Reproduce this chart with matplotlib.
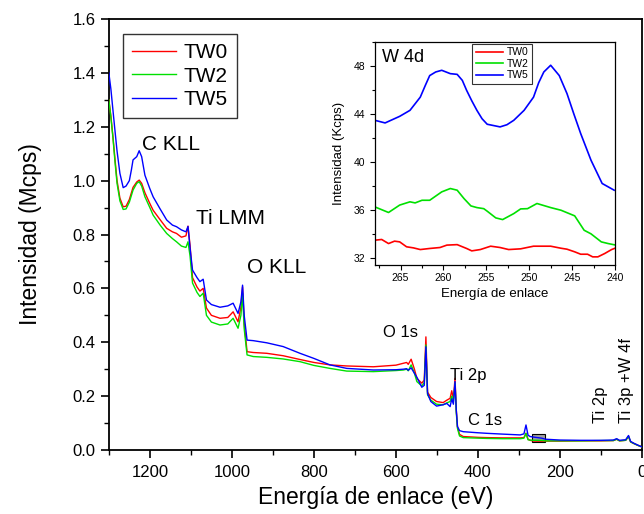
import matplotlib
matplotlib.use('Agg')
import matplotlib.pyplot as plt
from matplotlib.patches import Rectangle
from matplotlib.ticker import MultipleLocator

plt.rcParams['font.family'] = ['Liberation Sans', 'DejaVu Sans']

# ---- survey spectra (Mcps) ----
energia = [1300, 1295, 1290, 1285, 1280, 1273, 1265, 1258, 1250, 1245, 1241, 1232,
           1226, 1220, 1212, 1200, 1192,
           1175, 1159, 1145, 1135, 1123, 1112, 1107, 1102, 1096, 1085, 1078, 1070,
           1062, 1050, 1029, 1010, 997, 985, 978, 974, 970, 963, 948, 915, 875, 834,
           800, 761, 720, 655, 600, 582, 574, 570, 563, 555, 549, 537, 531, 527, 523,
           515, 501, 485, 476, 468, 464, 460, 456, 453, 450, 445, 436, 400, 379, 340,
           297, 288, 283, 278, 273, 265, 255, 245, 235, 200, 150, 100, 70, 62, 55,
           40, 33, 28, 20, 10, 1]
tw0 = [1.30, 1.24, 1.163, 1.08, 1.0, 0.935, 0.903, 0.905, 0.93, 0.955, 0.975, 0.995,
       1.002, 0.99, 0.955, 0.915, 0.89,
       0.855, 0.823, 0.81, 0.804, 0.79, 0.795, 0.831, 0.76, 0.64, 0.605, 0.59, 0.60,
       0.527, 0.5, 0.489, 0.492, 0.513, 0.476, 0.53, 0.606, 0.47, 0.365, 0.362, 0.359,
       0.35, 0.336, 0.325, 0.316, 0.312, 0.309, 0.315, 0.322, 0.325, 0.318, 0.337, 0.3,
       0.266, 0.248, 0.26, 0.42, 0.215, 0.195, 0.18, 0.176, 0.185, 0.192, 0.22, 0.19,
       0.266, 0.15, 0.085, 0.058, 0.05, 0.047, 0.046, 0.045, 0.045, 0.046, 0.062, 0.04,
       0.036, 0.0335, 0.033, 0.0328, 0.033, 0.033, 0.034, 0.034, 0.035, 0.04, 0.034,
       0.036, 0.05, 0.03, 0.024, 0.017, 0.012]
tw2 = [1.30, 1.235, 1.16, 1.07, 0.99, 0.925, 0.893, 0.895, 0.92, 0.945, 0.965, 0.99,
       0.996, 0.98, 0.94, 0.9, 0.872,
       0.835, 0.804, 0.785, 0.773, 0.757, 0.752, 0.773, 0.72, 0.62, 0.585, 0.57, 0.582,
       0.5, 0.475, 0.464, 0.468, 0.489, 0.452, 0.5, 0.582, 0.45, 0.353, 0.347, 0.344,
       0.338, 0.328, 0.314, 0.303, 0.293, 0.291, 0.295, 0.297, 0.3, 0.294, 0.316, 0.285,
       0.254, 0.238, 0.25, 0.39, 0.205, 0.185, 0.17, 0.168, 0.175, 0.18, 0.2, 0.18,
       0.248, 0.14, 0.08, 0.052, 0.046, 0.044, 0.043, 0.042, 0.042, 0.044, 0.062, 0.038,
       0.037, 0.036, 0.036, 0.0355, 0.034, 0.034, 0.034, 0.035, 0.035, 0.04, 0.034,
       0.036, 0.05, 0.03, 0.024, 0.017, 0.012]
tw5 = [1.40, 1.34, 1.262, 1.185, 1.11, 1.027, 0.974, 0.98, 1.0, 1.04, 1.077, 1.089,
       1.111, 1.089, 1.02, 0.97, 0.94,
       0.895, 0.854, 0.835, 0.829, 0.817, 0.81, 0.83, 0.75, 0.668, 0.64, 0.625, 0.634,
       0.557, 0.54, 0.53, 0.535, 0.545, 0.507, 0.55, 0.612, 0.5, 0.408, 0.406, 0.398,
       0.384, 0.359, 0.34, 0.316, 0.303, 0.297, 0.298, 0.3, 0.302, 0.296, 0.305, 0.285,
       0.27, 0.233, 0.24, 0.383, 0.21, 0.18, 0.163, 0.168, 0.173, 0.161, 0.19, 0.17,
       0.254, 0.15, 0.087, 0.072, 0.068, 0.064, 0.062, 0.059, 0.056, 0.06, 0.093, 0.055,
       0.05, 0.048, 0.046, 0.044, 0.04, 0.037, 0.036, 0.036, 0.037, 0.042, 0.036,
       0.038, 0.054, 0.032, 0.025, 0.018, 0.012]

# ---- W 4d detail (Kcps) ----
e_w5 = [268.0, 266.8, 265.1, 263.9, 262.7, 262.1, 261.6, 260.9, 260.2, 259.2, 258.4,
        257.8, 257.3, 256.7, 256.1, 255.5, 254.9, 253.4, 252.6, 251.8, 250.6, 249.5,
        248.9, 248.3, 247.5, 246.5, 245.6, 244.8, 244.0, 242.8, 241.5, 240.1]
w_tw5 = [43.47, 43.25, 43.8, 44.3, 45.4, 46.4, 47.2, 47.5, 47.64, 47.36, 47.3,
         46.8, 45.97, 45.1, 44.3, 43.6, 43.14, 42.92, 43.1, 43.47, 44.3, 45.4,
         46.6, 47.5, 48.06, 47.2, 45.7, 44.0, 42.36, 40.14, 38.2, 37.64]
e_w2 = [268.0, 266.4, 265.1, 263.9, 263.3, 262.5, 261.6, 260.2, 259.2, 258.4, 257.6,
        256.8, 256.1, 255.3, 254.9, 253.9, 253.1, 251.8, 251.0, 250.2, 249.1, 247.5,
        246.3, 244.7, 243.6, 242.8, 241.6, 240.8, 239.9]
w_tw2 = [36.25, 35.78, 36.4, 36.67, 36.58, 36.8, 36.8, 37.5, 37.78, 37.64, 36.94, 36.33,
         36.19, 36.1, 35.89, 35.33, 35.19, 35.69, 36.08, 36.1, 36.53, 36.19, 35.97, 35.5,
         34.3, 34.0, 33.33, 33.19, 33.06]
e_w0 = [268.0, 267.2, 266.4, 265.7, 265.1, 264.3, 263.5, 262.7, 261.6, 260.4, 259.6,
        258.4, 257.3, 256.7, 255.7, 254.5, 253.4, 252.4, 251.0, 249.5, 247.5, 246.3,
        245.6, 244.7, 244.0, 243.2, 242.6, 242.0, 241.2, 240.4, 239.9]
w_tw0 = [33.47, 33.53, 33.19, 33.39, 33.33, 32.92, 32.83, 32.69, 32.78, 32.86, 33.06,
         33.1, 32.78, 32.58, 32.69, 32.97, 32.86, 32.69, 32.75, 32.97, 32.97, 32.8,
         32.72, 32.5, 32.3, 32.3, 32.08, 32.08, 32.36, 32.69, 32.83]

labels = ['TW0', 'TW2', 'TW5']
colores = ['#ff0000', '#00e000', '#0000ff']

fig = plt.figure(figsize=(6.44, 5.14), dpi=100)
ax = fig.add_axes([0.169, 0.1245, 0.828, 0.8385])

for y, lab, c in zip([tw0, tw2, tw5], labels, colores):
    ax.plot(energia, y, color=c, lw=1.0, label=lab, zorder=3)

ax.add_patch(Rectangle((268, 0.028), -32, 0.03, facecolor='#a0a0a0',
                       edgecolor='black', lw=0.8, zorder=2))

ax.set_xlim(1300, 0)
ax.set_ylim(0, 1.6)
ax.xaxis.set_major_locator(MultipleLocator(200))
ax.xaxis.set_minor_locator(MultipleLocator(100))
ax.yaxis.set_major_locator(MultipleLocator(0.2))
ax.yaxis.set_minor_locator(MultipleLocator(0.1))
ax.yaxis.set_major_formatter(matplotlib.ticker.FormatStrFormatter('%.1f'))
ax.tick_params(which='major', direction='out', length=6, width=1.2, labelsize=12)
ax.tick_params(which='minor', direction='out', length=3.5, width=1.0)
ax.tick_params(axis='x', pad=5)
for s in ax.spines.values():
    s.set_linewidth(1.3)
ax.set_xlabel('Energía de enlace (eV)', fontsize=16.5, labelpad=4)
ax.set_ylabel('Intensidad (Mcps)', fontsize=16.5, labelpad=22)

leg = ax.legend(loc='upper left', bbox_to_anchor=(0.026, 0.965), borderaxespad=0,
                fontsize=15, fancybox=False, edgecolor='black', handlelength=2.1,
                handletextpad=0.35, labelspacing=0.2, borderpad=0.45)
leg.get_frame().set_linewidth(1.0)

big = 15
small = 12
ax.text(1219, 1.136, 'C KLL', fontsize=big, va='center', ha='left')
ax.text(1088, 0.861, 'Ti LMM', fontsize=big, va='center', ha='left')
ax.text(963, 0.676, 'O KLL', fontsize=big, va='center', ha='left')
ax.text(632, 0.438, 'O 1s', fontsize=small, va='center', ha='left')
ax.text(468, 0.278, 'Ti 2p', fontsize=small, va='center', ha='left')
ax.text(424, 0.108, 'C 1s', fontsize=small, va='center', ha='left')
ax.text(102, 0.1, 'Ti 2p', fontsize=small, va='bottom', ha='center', rotation=90)
ax.text(39, 0.1, 'Ti 3p +W 4f', fontsize=small, va='bottom', ha='center', rotation=90)

# ---- inset ----
axi = fig.add_axes([0.582, 0.4844, 0.373, 0.4339])
axi.plot(e_w0, w_tw0, color=colores[0], lw=1.2, label=labels[0])
axi.plot(e_w2, w_tw2, color=colores[1], lw=1.2, label=labels[1])
axi.plot(e_w5, w_tw5, color=colores[2], lw=1.2, label=labels[2])
axi.set_xlim(268, 240)
axi.set_ylim(31.4, 50)
axi.xaxis.set_major_locator(MultipleLocator(5))
axi.xaxis.set_minor_locator(MultipleLocator(2.5))
axi.yaxis.set_major_locator(MultipleLocator(4))
axi.yaxis.set_minor_locator(MultipleLocator(2))
axi.tick_params(which='major', direction='out', length=3.5, width=0.8, labelsize=7.5)
axi.tick_params(which='minor', direction='out', length=2, width=0.8)
axi.tick_params(axis='x', pad=2.5)
for s in axi.spines.values():
    s.set_linewidth(0.9)
axi.set_xlabel('Energía de enlace', fontsize=9.5, labelpad=3)
axi.set_ylabel('Intensidad (Kcps)', fontsize=9.5, labelpad=6)
axi.text(0.03, 0.97, 'W 4d', transform=axi.transAxes, fontsize=13, va='top', ha='left')
li = axi.legend(loc='upper center', bbox_to_anchor=(0.53, 0.99), borderaxespad=0,
                fontsize=7.5, fancybox=False, edgecolor='black', handlelength=2.6,
                handletextpad=0.4, labelspacing=0.15, borderpad=0.3)
li.get_frame().set_linewidth(0.8)

fig.savefig('out.png', dpi=100)
